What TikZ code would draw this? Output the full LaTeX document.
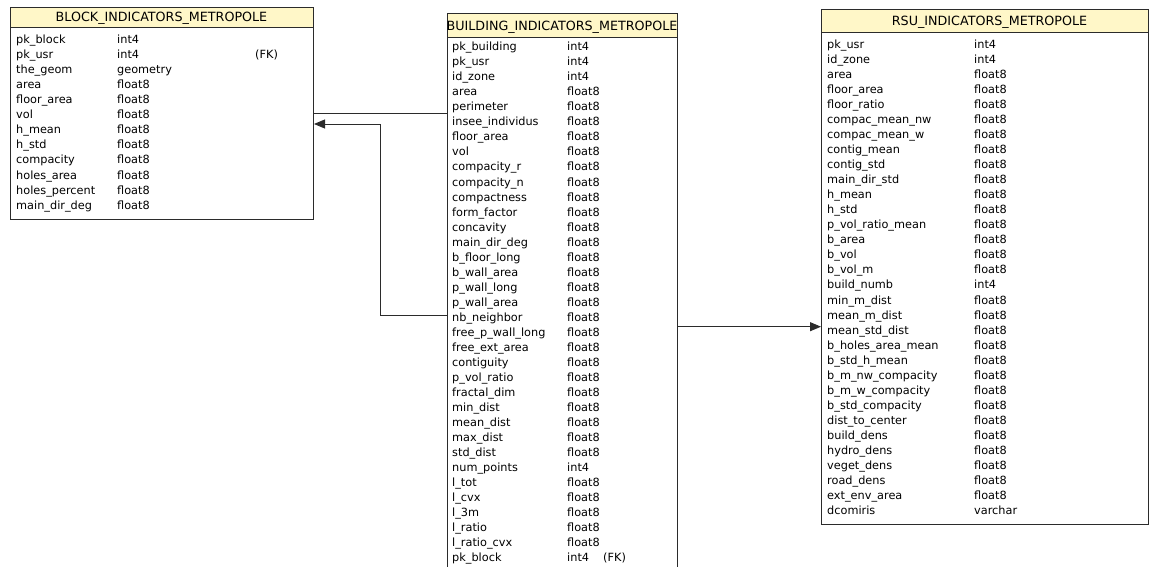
\documentclass[tikz,border=0pt]{standalone}
\usepackage{fontspec}
\setmainfont{DejaVu Sans}
\usetikzlibrary{arrows.meta}
\definecolor{hdrfill}{HTML}{FFF7C8}
\definecolor{edge}{HTML}{2B2B2B}
\definecolor{txt}{HTML}{000000}
\tikzset{
 tbl/.style={draw=edge, line width=1pt, fill=white, inner sep=0pt, anchor=north west},
 hdr/.style={draw=edge, line width=1pt, fill=hdrfill, inner sep=0pt, anchor=north west},
 ttl/.style={font=\fontsize{12.7}{14}\selectfont, text=txt, inner sep=0pt, anchor=base},
 row/.style={font=\fontsize{11.3}{13}\selectfont, text=txt, inner sep=0pt, anchor=base west},
 conn/.style={draw=edge, line width=0.9pt},
 arr/.style={-{Triangle[length=11pt,width=9pt]}}
}
\begin{document}
\begin{tikzpicture}[x=1pt,y=-1pt]
\useasboundingbox (0,0) rectangle (1149,567);
\clip (0,0) rectangle (1149,567);

% ---------- BLOCK table ----------
\node[tbl, minimum width=303pt, minimum height=212.3pt] (blk) at (10,6.7) {};
\node[hdr, minimum width=303pt, minimum height=20.6pt] (blkh) at (10,6.7) {};
\node[ttl] (blkt) at (161.5,22) {BLOCK\_INDICATORS\_METROPOLE};
\foreach \n/\t [count=\i from 0] in {pk\_block/int4, pk\_usr/int4, the\_geom/geometry, area/float8, floor\_area/float8, vol/float8, h\_mean/float8, h\_std/float8, compacity/float8, holes\_area/float8, holes\_percent/float8, main\_dir\_deg/float8}{
  \node[row] (blk-n\i) at (16,{44+15*\i}) {\n};
  \node[row] (blk-t\i) at (117,{44+15*\i}) {\t};
}
\node[row] (blk-fk) at (255,59) {(FK)};

% ---------- BUILDING table ----------
\node[tbl, minimum width=230.3pt, minimum height=600pt] (bld) at (446.7,13.3) {};
\node[hdr, minimum width=230.3pt, minimum height=23.4pt] (bldh) at (446.7,13.3) {};
\node[ttl] (bldt) at (562,31) {BUILDING\_INDICATORS\_METROPOLE};
\foreach \n/\t [count=\i from 0] in {pk\_building/int4, pk\_usr/int4, id\_zone/int4, area/float8, perimeter/float8, insee\_individus/float8, floor\_area/float8, vol/float8, compacity\_r/float8, compacity\_n/float8, compactness/float8, form\_factor/float8, concavity/float8, main\_dir\_deg/float8, b\_floor\_long/float8, b\_wall\_area/float8, p\_wall\_long/float8, p\_wall\_area/float8, nb\_neighbor/float8, free\_p\_wall\_long/float8, free\_ext\_area/float8, contiguity/float8, p\_vol\_ratio/float8, fractal\_dim/float8, min\_dist/float8, mean\_dist/float8, max\_dist/float8, std\_dist/float8, num\_points/int4, l\_tot/float8, l\_cvx/float8, l\_3m/float8, l\_ratio/float8, l\_ratio\_cvx/float8, pk\_block/int4}{
  \node[row] (bld-n\i) at (452,{51+15*\i}) {\n};
  \node[row] (bld-t\i) at (567,{51+15*\i}) {\t};
}
\node[row] (bld-fk) at (603,561) {(FK)};

% ---------- RSU table ----------
\node[tbl, minimum width=327pt, minimum height=515pt] (rsu) at (821,9) {};
\node[hdr, minimum width=327pt, minimum height=23.3pt] (rsuh) at (821,9) {};
\node[ttl] (rsut) at (989.5,26) {RSU\_INDICATORS\_METROPOLE};
\foreach \n/\t [count=\i from 0] in {pk\_usr/int4, id\_zone/int4, area/float8, floor\_area/float8, floor\_ratio/float8, compac\_mean\_nw/float8, compac\_mean\_w/float8, contig\_mean/float8, contig\_std/float8, main\_dir\_std/float8, h\_mean/float8, h\_std/float8, p\_vol\_ratio\_mean/float8, b\_area/float8, b\_vol/float8, b\_vol\_m/float8, build\_numb/int4, min\_m\_dist/float8, mean\_m\_dist/float8, mean\_std\_dist/float8, b\_holes\_area\_mean/float8, b\_std\_h\_mean/float8, b\_m\_nw\_compacity/float8, b\_m\_w\_compacity/float8, b\_std\_compacity/float8, dist\_to\_center/float8, build\_dens/float8, hydro\_dens/float8, veget\_dens/float8, road\_dens/float8, ext\_env\_area/float8, dcomiris/varchar}{
  \node[row] (rsu-n\i) at (827,{48.5+15.03*\i}) {\n};
  \node[row] (rsu-t\i) at (974,{48.5+15.03*\i}) {\t};
}

% ---------- connectors ----------
\draw[conn] (bld.west |- 0,113) -- (blk.east |- 0,113);
\draw[conn, arr] (bld.west |- 0,315) -| (380,124) -- (blk.east |- 0,124);
\draw[conn, arr] (bld.east |- 0,326.7) -- (rsu.west |- 0,326.7);
\end{tikzpicture}
\end{document}
